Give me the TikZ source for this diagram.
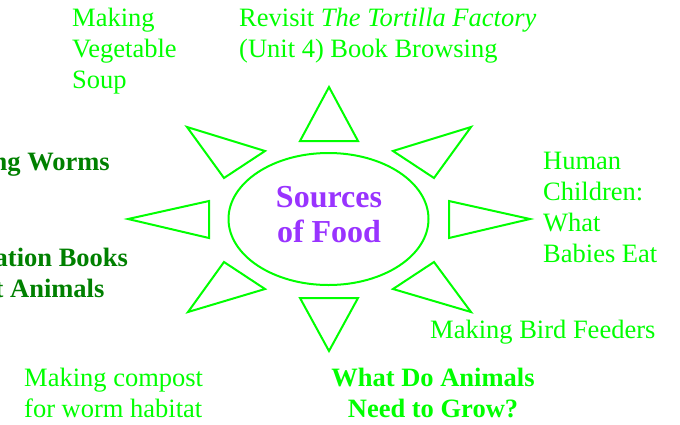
\documentclass[tikz,border=0pt]{standalone}
\usepackage{fontspec}
\setmainfont{Liberation Serif}
\usetikzlibrary{shapes.geometric}
\definecolor{ltgreen}{RGB}{0,255,0}
\definecolor{dkgreen}{RGB}{0,128,0}
\definecolor{foodpurple}{RGB}{153,51,255}

\begin{document}
\begin{tikzpicture}[x=1pt,y=-1pt,
    ray/.style={draw=ltgreen,line width=2pt},
    txt/.style={inner sep=0pt,text=ltgreen,font=\fontsize{26.5}{31}\selectfont},
    bigtxt/.style={txt,font=\fontsize{26.5}{31}\selectfont\bfseries}]
  \useasboundingbox (0,0) rectangle (680,424);
  \clip (0,0) rectangle (680,424);
  % centre of the sun
  \node[ellipse,draw=ltgreen,line width=2pt,minimum width=200pt,minimum height=132pt] (sun) at (328.5,219) {};
  \node[inner sep=0pt,text=foodpurple,align=center,font=\fontsize{32}{35}\selectfont\bfseries] (title) at (329,214.5) {Sources\\of Food};
  % rays
  \draw[ray] (329,87) -- (300,141) -- (358,141) -- cycle;
  \draw[ray] (329,351) -- (300,298) -- (358,298) -- cycle;
  \draw[ray] (530,219) -- (449,201) -- (449,238) -- cycle;
  \draw[ray] (128,219) -- (209,201) -- (209,238) -- cycle;
  \draw[ray] (187,127) -- (265,151) -- (224,178) -- cycle;
  \draw[ray] (471,127) -- (393,151) -- (434,178) -- cycle;
  \draw[ray] (224,262) -- (265,289) -- (188,312) -- cycle;
  \draw[ray] (434,262) -- (393,289) -- (471,312) -- cycle;
  % activities (base = last line)
  \node[txt,align=left,anchor=base west] (soup) at (72,88) {Making\\Vegetable\\Soup};
  \node[txt,align=left,anchor=base west] (tortilla) at (239,57) {Revisit \textit{The Tortilla Factory}\\(Unit 4) Book Browsing};
  \node[bigtxt,text=dkgreen,anchor=base east] (worms) at (110,170) {ng Worms};
  \node[bigtxt,text=dkgreen,align=left,anchor=base west] (books) at (-5.5,297) {ation Books\\t Animals};
  \node[txt,align=left,anchor=base west] (babies) at (543,262) {Human\\Children:\\What\\Babies Eat};
  \node[txt,anchor=base west] (bird) at (430,338) {Making Bird Feeders};
  \node[txt,align=left,anchor=base west] (compost) at (24,417) {Making compost\\for worm habitat};
  \node[bigtxt,align=center,anchor=base] (grow) at (433,417) {What Do Animals\\Need to Grow?};
\end{tikzpicture}
\end{document}
